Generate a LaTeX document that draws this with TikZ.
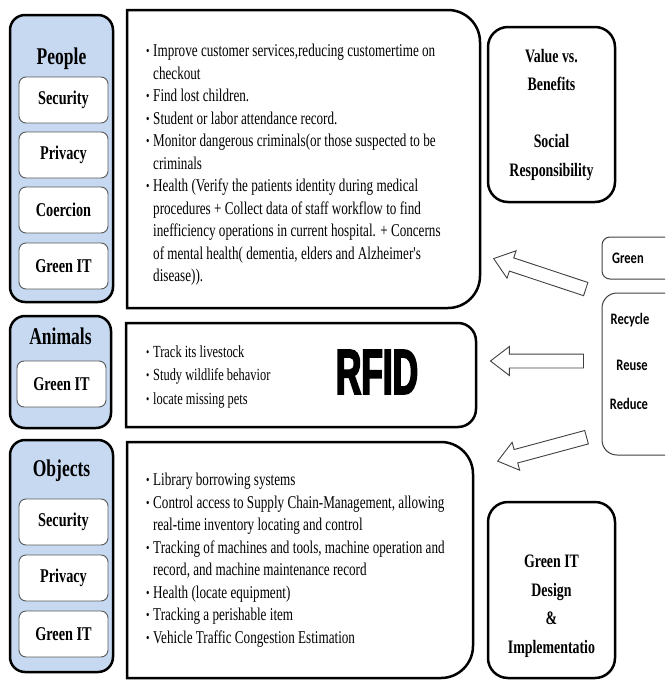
\documentclass[tikz,border=0pt]{standalone}
\usepackage{fontspec}
\usepackage{graphicx}
\setmainfont{Liberation Serif}
\newfontfamily\bodyf[FakeStretch=0.73]{Liberation Serif}
\newfontfamily\rfidf[FakeStretch=0.55,BoldFeatures={FakeBold=2.5}]{Liberation Sans}
\newfontfamily\calf[FakeStretch=0.78]{Carlito}
\usetikzlibrary{shapes.arrows}
\definecolor{cblue}{RGB}{198,217,241}
\newcommand\bul{\makebox[7pt][l]{\raisebox{1pt}{\scalebox{0.75}{\textbullet}}}}
\newcommand\cnt{\hspace*{7pt}}
\tikzset{
 bluebox/.style={draw=black, line width=2.5pt, fill=cblue, rounded corners=15pt, inner sep=0},
 whitebox/.style={draw=black!65, line width=0.9pt, fill=white, rounded corners=7pt, minimum width=89pt, minimum height=46pt, inner sep=0, font=\bodyf\bfseries\fontsize{19.5}{22}\selectfont},
 headtxt/.style={font=\bodyf\bfseries\fontsize{24}{26}\selectfont, anchor=base, inner sep=0},
 bodytxt/.style={font=\bodyf\fontsize{18}{22.5}\selectfont, align=left, anchor=north west, inner sep=0},
 midline/.style={draw=black, line width=2.5pt, fill=white},
 rbox/.style={draw=black, line width=2.5pt, rounded corners=20pt, inner sep=0, fill=white, minimum width=127pt},
 rtxt/.style={font=\bodyf\bfseries\fontsize{19}{28.5}\selectfont, align=center, inner sep=0},
 gbox/.style={draw=black!75, line width=1pt, fill=white},
 ctxt/.style={font=\calf\bfseries\fontsize{16}{18}\selectfont, inner sep=0},
 blockarrow/.style={single arrow, draw=black!75, line width=0.9pt, fill=white, inner xsep=0pt, inner ysep=6.5pt, minimum width=28pt, single arrow head extend=7.5pt, single arrow tip angle=75, sloped, allow upside down},
}
\begin{document}
\begin{tikzpicture}[x=1pt,y=-1pt]
\useasboundingbox (0,0) rectangle (665,680);
\clip (0,0) rectangle (665,680);
% ---------- left column ----------
\node[bluebox, minimum width=103pt, minimum height=287pt] (people) at (61.5,158.5) {};
\node[headtxt] (peoplet) at (61.5,64) {People};
\node[whitebox] (psec) at (63.5,100) {Security};
\node[whitebox] (ppri) at (63.5,155) {Privacy};
\node[whitebox] (pcoe) at (63.5,210) {Coercion};
\node[whitebox] (pgit) at (63.5,266) {Green IT};

\node[bluebox, minimum width=101pt, minimum height=112pt] (animals) at (60.5,372) {};
\node[headtxt] (animalst) at (60.5,344) {Animals};
\node[whitebox] (agit) at (61.5,384) {Green IT};

\node[bluebox, minimum width=103pt, minimum height=232pt] (objects) at (61.5,556) {};
\node[headtxt] (objectst) at (61.5,476) {Objects};
\node[whitebox] (osec) at (63.5,522) {Security};
\node[whitebox] (opri) at (63.5,578) {Privacy};
\node[whitebox] (ogit) at (63.5,634) {Green IT};

% ---------- middle column ----------
\path[midline] (127,10) -- (448,10) arc[start angle=270, end angle=360, radius=32] -- (480,276) arc[start angle=0, end angle=90, radius=32] -- (127,308) -- cycle;
\node[bodytxt] (peopletext) at (146,44) {%
\bul Improve  customer services,reducing  customertime  on\\
\cnt checkout\\
\bul Find lost children.\\
\bul Student or labor  attendance record.\\
\bul Monitor dangerous criminals(or  those suspected to be\\
\cnt criminals\\
\bul Health (Verify  the patients identity during medical\\
\cnt procedures + Collect  data of staff workflow  to find\\
\cnt inefficiency  operations in current hospital. + Concerns\\
\cnt of  mental health( dementia, elders and Alzheimer's\\
\cnt disease)).};

\path[midline] (126,323) -- (458,323) arc[start angle=270, end angle=360, radius=18] -- (476,409) arc[start angle=0, end angle=90, radius=18] -- (126,427) -- cycle;
\node[bodytxt, font=\bodyf\fontsize{17}{23.5}\selectfont] (animalstext) at (146,345) {%
\bul Track its livestock\\
\bul Study wildlife  behavior\\
\bul locate missing pets};
\node[font=\rfidf\bfseries\fontsize{64}{64}\selectfont, inner sep=0] (rfid) at (377,372) {RFID};

\path[midline] (127,442) -- (441,442) arc[start angle=270, end angle=360, radius=32] -- (473,646) arc[start angle=0, end angle=90, radius=32] -- (127,678) -- cycle;
\node[bodytxt] (objectstext) at (146,473) {%
\bul Library  borrowing systems\\
\bul Control access to Supply Chain-Management,  allowing\\
\cnt real-time  inventory locating and control\\
\bul Tracking of machines and tools, machine operation and\\
\cnt record, and machine  maintenance record\\
\bul Health  (locate equipment)\\
\bul Tracking a perishable item\\
\bul Vehicle  Traffic  Congestion Estimation};

% ---------- right column ----------
\node[rbox, minimum height=175pt, rtxt] (value) at (551.5,114.5) {Value vs.\\Benefits\\[28.5pt]Social\\Responsibility};
\node[rbox, minimum height=176pt] (gitd) at (551.5,590) {};
\node[rtxt] (gitdt) at (551.5,606) {Green IT\\Design\\\&\\Implementatio};

\path[gbox, rounded corners=8pt] (602,237) rectangle (700,279);
\node[ctxt, anchor=west] (green) at (612,258) {Green};
\path[gbox, rounded corners=15pt] (602,293) rectangle (700,455);
\node[ctxt] (recycle) at (630,320) {Recycle};
\node[ctxt] (reuse) at (632,365) {Reuse};
\node[ctxt] (reduce) at (629,404) {Reduce};

% ---------- block arrows ----------
\coordinate (a1t) at (590,290.5);
\coordinate (a1h) at (498,260);
\coordinate (a2t) at (588,361);
\coordinate (a2h) at (495,361);
\coordinate (a3t) at (591,436);
\coordinate (a3h) at (502,460);
\path (a1t) -- (a1h) node[blockarrow, midway, minimum height=97pt] (arr1) {};
\path (a2t) -- (a2h) node[blockarrow, midway, minimum height=93pt] (arr2) {};
\path (a3t) -- (a3h) node[blockarrow, midway, minimum height=92pt] (arr3) {};
\end{tikzpicture}
\end{document}
